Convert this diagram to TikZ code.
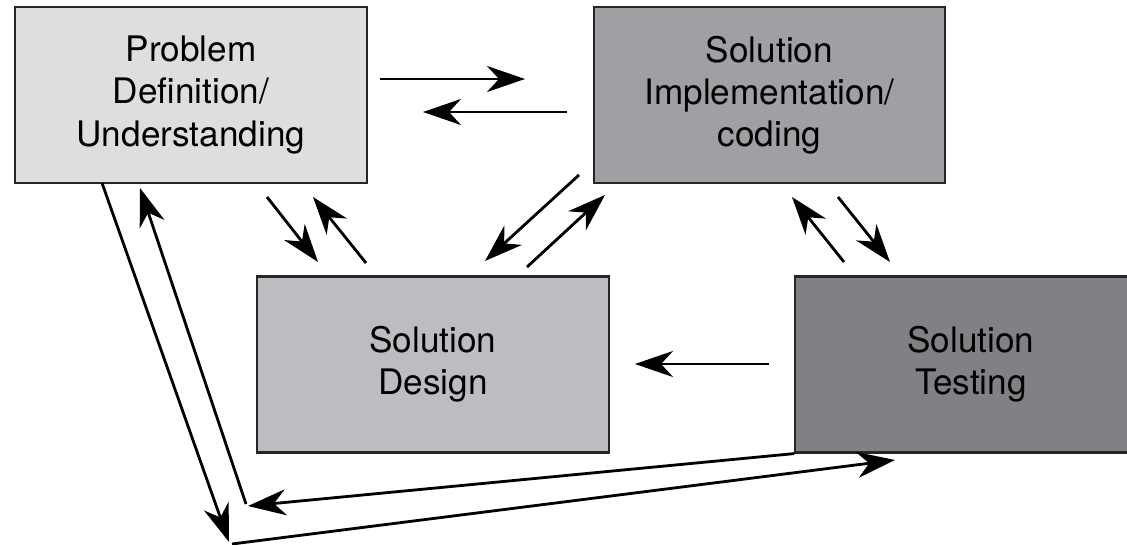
\documentclass[tikz,border=0pt]{standalone}
\usepackage{fontspec}
\setmainfont{TeX Gyre Heros}
\usepackage{xcolor}
\usepackage{tikz}
\usetikzlibrary{arrows.meta}
\definecolor{defgray}{RGB}{221,222,224}
\definecolor{implgray}{RGB}{160,160,164}
\definecolor{desgray}{RGB}{188,189,192}
\definecolor{testgray}{RGB}{128,129,132}
\begin{document}
\begin{tikzpicture}[x=0.025cm,y=-0.025cm]
		\tikzstyle{stagebox}=[draw=black!85,line width=1.5pt,minimum width=8.78cm,minimum height=4.4cm,inner sep=0pt,align=center,font=\fontsize{25}{30}\selectfont]
		\tikzstyle{flow}=[-{Stealth[length=0.95cm,width=0.65cm,inset=0.3cm]},line width=2pt]
		\clip (0,0) rectangle (1127,545);

		\node[stagebox,fill=defgray] (problem) at (191,95) {Problem\\Definition/\\Understanding};
		\node[stagebox,fill=implgray] (coding) at (769.5,95) {Solution\\Implementation/\\coding};
		\node[stagebox,fill=desgray] (design) at (433,364.5) {Solution\\Design};
		\node[stagebox,fill=testgray] (testing) at (971,364.5) {Solution\\Testing};

		% arrow ends between the boxes
		\coordinate (pc1) at (380,79);   \coordinate (pc2) at (525,79);
		\coordinate (cp1) at (567,112);  \coordinate (cp2) at (423,112);
		\coordinate (pd1) at (267,197);  \coordinate (pd2) at (318,262);
		\coordinate (dp1) at (366,263);  \coordinate (dp2) at (313,197);
		\coordinate (cd1) at (579,175);  \coordinate (cd2) at (485,261);
		\coordinate (dc1) at (527,267);  \coordinate (dc2) at (605,195);
		\coordinate (tc1) at (844,262);  \coordinate (tc2) at (792,197);
		\coordinate (ct1) at (838,197);  \coordinate (ct2) at (890,262);
		\coordinate (td1) at (769,364);  \coordinate (td2) at (635,364);

		% the long way round below
		\coordinate (pb1) at (102,183);  \coordinate (pb2) at (229,542);
		\coordinate (bt1) at (232,544);  \coordinate (bt2) at (895,460);
		\coordinate (tb2) at (248,506);
		\coordinate (bp1) at (246,504);  \coordinate (bp2) at (140,188);

		\draw[flow] (pc1) -- (pc2);
		\draw[flow] (cp1) -- (cp2);
		\draw[flow] (pd1) -- (pd2);
		\draw[flow] (dp1) -- (dp2);
		\draw[flow] (cd1) -- (cd2);
		\draw[flow] (dc1) -- (dc2);
		\draw[flow] (tc1) -- (tc2);
		\draw[flow] (ct1) -- (ct2);
		\draw[flow] (td1) -- (td2);

		\draw[flow] (pb1) -- (pb2);
		\draw[flow] (bt1) -- (bt2);
		\draw[flow] (testing.south west) -- (tb2);
		\draw[flow] (bp1) -- (bp2);

	\end{tikzpicture}
\end{document}
